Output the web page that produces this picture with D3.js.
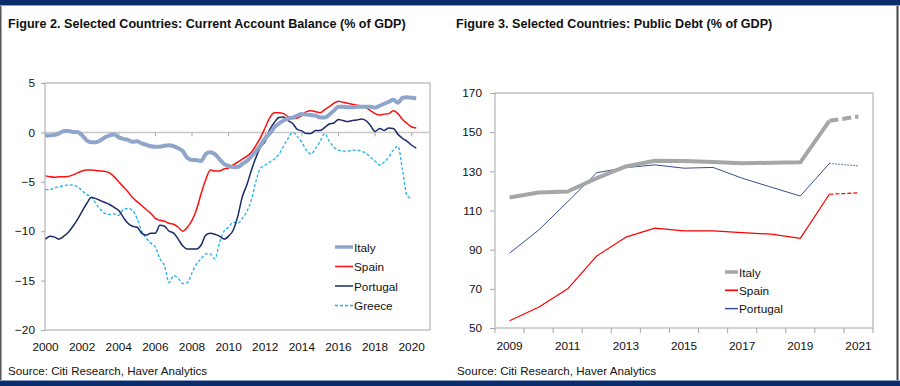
<!DOCTYPE html>
<html lang="en">
<head>
<meta charset="UTF-8">
<title>Selected Countries: Current Account and Public Debt</title>
<script src="https://d3js.org/d3.v7.min.js"></script>
<style>
  body { margin: 0; background: #fff; }
  svg { display: block; font-family: "Liberation Sans", Arial, sans-serif; }
  .title { font-size: 12.6px; font-weight: bold; fill: #111; }
  .lbl { font-size: 11.8px; fill: #111; }
  .source { font-size: 11.6px; fill: #111; }
  .legend text { font-size: 11.8px; fill: #111; }
</style>
</head>
<body>
<svg id="chart" width="900" height="386"></svg>
<script>
// ---- Figure 2: current account balance, quarterly from 2000Q1 ----
const caStart = 2000;
const caItaly = [
  -0.35, -0.3, -0.25, -0.1,  0.15, 0.15, 0.05, 0.05,  -0.3, -0.8, -1.0, -1.0,
  -0.8, -0.5, -0.3, -0.2,  -0.5, -0.65, -0.75, -0.95,  -0.9, -1.1, -1.25, -1.4,
  -1.45, -1.45, -1.35, -1.3,  -1.4, -1.6, -1.9, -2.6,  -2.8, -2.8, -2.9, -2.2,
  -2.0, -2.2, -2.7, -3.2,  -3.4, -3.5, -3.5, -3.2,  -2.9, -2.4, -1.9, -1.3,
  -0.6, -0.1, 0.5, 0.9,  1.2, 1.4, 1.5, 1.7,  1.85, 1.8, 1.75, 1.7,
  1.5, 1.5, 1.8, 2.2,  2.6, 2.6, 2.55, 2.55,  2.6, 2.6, 2.6, 2.6,
  2.5, 2.7, 2.9, 3.1,  3.3, 3.0, 3.5, 3.55,  3.5, 3.45
];
const caSpain = [
  -4.4, -4.5, -4.55, -4.5,  -4.5, -4.45, -4.3, -4.1,  -3.9, -3.8, -3.8, -3.85,
  -3.9, -3.95, -4.1, -4.5,  -5.0, -5.5, -6.0, -6.6,  -7.0, -7.4, -7.8, -8.2,
  -8.7, -8.9, -9.0, -9.2,  -9.3, -9.6, -10.0, -9.6,  -8.9, -7.8, -6.2, -4.8,
  -3.8, -3.9, -3.9, -3.7,  -3.6, -3.3, -3.0, -2.7,  -2.4, -2.0, -1.3, -0.5,
  0.5, 1.5, 2.0, 2.0,  1.9, 1.6, 1.4, 1.45,  1.7, 2.1, 2.2, 2.1,
  2.0, 2.3, 2.6, 2.95,  3.15, 3.05, 2.95, 2.85,  2.75, 2.7, 2.5, 2.2,
  1.9, 1.75, 1.85, 1.9,  2.2, 1.9, 1.3, 0.9,  0.55, 0.45
];
const caPortugal = [
  -10.8, -10.5, -10.6, -10.8,  -10.5, -10.1, -9.5, -8.8,  -8.0, -7.2, -6.6, -6.7,
  -6.9, -7.1, -7.3, -7.6,  -7.9, -8.6, -9.2, -9.5,  -9.6, -10.2, -10.4, -10.2,
  -10.2, -9.4, -9.5, -10.0,  -10.2, -10.8, -11.5, -11.8,  -11.8, -11.8, -11.4, -10.4,
  -10.2, -10.3, -10.5, -10.8,  -10.5, -9.9, -8.5, -6.5,  -5.3, -3.8, -2.5, -1.5,
  -0.9, 0.3, 1.0, 1.5,  1.55, 1.2, 0.9, 0.3,  0.15, -0.1, -0.1, 0.2,
  0.2, 0.5, 0.85, 0.95,  1.3, 1.2, 1.1, 1.2,  1.25, 1.35, 1.2, 0.7,
  0.1, 0.4, 0.2, 0.45,  0.4, -0.2, -0.6, -0.9,  -1.3, -1.6
];
const caGreece = [
  -5.8, -5.8, -5.6, -5.5,  -5.4, -5.3, -5.35, -5.5,  -5.9, -6.3, -6.5, -7.2,
  -7.8, -8.2, -8.3, -8.25,  -8.4, -7.8, -7.7, -7.9,  -8.7, -10.0, -10.7, -11.2,
  -11.6, -12.8, -13.5, -15.2,  -14.5, -14.8, -15.3, -15.2,  -14.2, -13.3, -12.8, -12.3,
  -12.3, -12.8, -11.2, -10.0,  -9.6, -9.1, -9.2, -8.7,  -8.0, -6.8, -4.9, -3.6,
  -3.3, -3.0, -2.7, -2.2,  -1.4, -0.6, 0.0, -0.4,  -1.0, -1.8, -2.2, -1.6,
  -0.9, -0.1, -0.9, -1.5,  -1.8, -1.9, -1.9, -1.8,  -1.8, -1.9, -2.1, -2.5,
  -2.9, -3.3, -3.0, -2.5,  -1.8, -1.4, -3.8, -6.4,  -6.7
];
const caYTicks = [5, 0, -5, -10, -15, -20];
const caXTicks = [2000, 2002, 2004, 2006, 2008, 2010, 2012, 2014, 2016, 2018, 2020];

// ---- Figure 3: public debt, annual (last year is a forecast) ----
const debtYears = [2009, 2010, 2011, 2012, 2013, 2014, 2015, 2016, 2017, 2018, 2019, 2020, 2021];
const debtItaly    = [116.6, 119.2, 119.7, 126.5, 132.5, 135.4, 135.3, 134.8, 134.1, 134.4, 134.6, 155.8, 158.0];
const debtSpain    = [53.7, 60.6, 70.0, 86.8, 96.4, 101.0, 99.6, 99.6, 98.7, 97.9, 95.8, 118.3, 119.0];
const debtPortugal = [88.2, 100.0, 114.5, 129.3, 131.9, 133.3, 131.6, 132.0, 126.5, 121.9, 117.4, 134.0, 132.8];
const debtYTicks = [170, 150, 130, 110, 90, 70, 50];
const debtXLabels = [2009, 2011, 2013, 2015, 2017, 2019, 2021];

const svg = d3.select('#chart');
const navy = '#0b2c6c';

// frame
svg.append('rect').attr('x', 0).attr('y', 0).attr('width', 900).attr('height', 5).attr('fill', navy);
svg.append('rect').attr('x', 0).attr('y', 5).attr('width', 900).attr('height', 1).attr('fill', '#8a9cc4');
svg.append('rect').attr('x', 0).attr('y', 381).attr('width', 900).attr('height', 5).attr('fill', navy);
svg.append('rect').attr('x', 0).attr('y', 380).attr('width', 900).attr('height', 1).attr('fill', '#8a9cc4');
svg.append('rect').attr('x', 0).attr('y', 6).attr('width', 1.5).attr('height', 374).attr('fill', '#555');
svg.append('rect').attr('x', 896.5).attr('y', 6).attr('width', 2).attr('height', 374).attr('fill', '#444');

// titles and sources
svg.append('text').attr('class', 'title').attr('x', 8).attr('y', 28)
  .text('Figure 2. Selected Countries: Current Account Balance (% of GDP)');
svg.append('text').attr('class', 'title').attr('x', 456).attr('y', 28)
  .text('Figure 3. Selected Countries: Public Debt (% of GDP)');
svg.append('text').attr('class', 'source').attr('x', 8).attr('y', 375)
  .text('Source: Citi Research, Haver Analytics');
svg.append('text').attr('class', 'source').attr('x', 457).attr('y', 375)
  .text('Source: Citi Research, Haver Analytics');

// ================= Figure 2 =================
const p2 = { left: 45, right: 430, top: 83, bottom: 330 };
const x2 = d3.scaleLinear().domain([2000, 2021]).range([p2.left + 0.5, p2.right]);
const y2 = d3.scaleLinear().domain([-20, 5]).range([p2.bottom, p2.top]);

const g2 = svg.append('g');
g2.append('rect')
  .attr('x', p2.left).attr('y', p2.top)
  .attr('width', p2.right - p2.left).attr('height', p2.bottom - p2.top)
  .attr('fill', 'none').attr('stroke', '#a6a6a6').attr('stroke-width', 1);

const yAxis2 = g2.append('g')
  .attr('transform', `translate(${p2.left},0)`)
  .call(d3.axisLeft(y2).tickValues(caYTicks).tickSize(4).tickPadding(6).tickFormat(d3.format('d')));
yAxis2.select('.domain').remove();
yAxis2.selectAll('line').attr('stroke', '#a6a6a6');
yAxis2.selectAll('text').attr('fill', '#111').style('font-size', '11.8px')
  .style('font-family', '"Liberation Sans", Arial, sans-serif');

// zero line with tick marks
g2.append('line')
  .attr('x1', p2.left).attr('x2', p2.right)
  .attr('y1', y2(0)).attr('y2', y2(0))
  .attr('stroke', '#c8c8c8').attr('stroke-width', 1.5);
g2.selectAll('.zt').data(caXTicks).enter().append('line')
  .attr('x1', d => x2(d)).attr('x2', d => x2(d))
  .attr('y1', y2(0)).attr('y2', y2(0) + 4)
  .attr('stroke', '#a6a6a6');
g2.selectAll('.xl').data(caXTicks).enter().append('text')
  .attr('class', 'lbl').attr('text-anchor', 'middle')
  .attr('x', d => x2(d)).attr('y', 351)
  .text(d => d);

const caLine = d3.line()
  .x((d, i) => x2(caStart + i / 4))
  .y(d => y2(d))
  .curve(d3.curveMonotoneX);

const caSeries = [
  { name: 'Italy', data: caItaly, color: '#8fa5cb', width: 4, dash: null },
  { name: 'Spain', data: caSpain, color: '#ff1010', width: 1.5, dash: null },
  { name: 'Portugal', data: caPortugal, color: '#1c2a68', width: 1.5, dash: null },
  { name: 'Greece', data: caGreece, color: '#1fb0ea', width: 1.3, dash: '3,2' }
];
// draw order: Greece, Portugal, Spain, Italy on top
[3, 2, 1, 0].forEach(k => {
  const s = caSeries[k];
  g2.append('path')
    .attr('d', caLine(s.data))
    .attr('fill', 'none')
    .attr('stroke', s.color)
    .attr('stroke-width', s.width)
    .attr('stroke-linejoin', 'round')
    .attr('stroke-dasharray', s.dash);
});

const leg2 = g2.append('g').attr('class', 'legend');
caSeries.forEach((s, i) => {
  const yy = 247 + i * 19.5;
  leg2.append('line')
    .attr('x1', 335).attr('x2', 353).attr('y1', yy).attr('y2', yy)
    .attr('stroke', s.color).attr('stroke-width', s.width === 4 ? 3.5 : s.width)
    .attr('stroke-dasharray', s.dash);
  leg2.append('text').attr('x', 354).attr('y', yy + 4.5).text(s.name);
});

// ================= Figure 3 =================
const p3 = { left: 495, right: 873, top: 93, bottom: 328 };
const x3 = d3.scaleBand().domain(debtYears).range([p3.left, p3.right]);
const y3 = d3.scaleLinear().domain([50, 170]).range([p3.bottom, p3.top]);
const cx = d => x3(d) + x3.bandwidth() / 2;

const g3 = svg.append('g');
g3.append('rect')
  .attr('x', p3.left).attr('y', p3.top)
  .attr('width', p3.right - p3.left).attr('height', p3.bottom - p3.top)
  .attr('fill', 'none').attr('stroke', '#a6a6a6').attr('stroke-width', 1);

const yAxis3 = g3.append('g')
  .attr('transform', `translate(${p3.left},0)`)
  .call(d3.axisLeft(y3).tickValues(debtYTicks).tickSize(5).tickPadding(8).tickFormat(d3.format('d')));
yAxis3.select('.domain').remove();
yAxis3.selectAll('line').attr('stroke', '#a6a6a6');
yAxis3.selectAll('text').attr('fill', '#111').style('font-size', '11.8px')
  .style('font-family', '"Liberation Sans", Arial, sans-serif');

// category ticks between bands
const bandEdges = debtYears.map(d => x3(d)).concat([p3.right]);
g3.selectAll('.bt').data(bandEdges).enter().append('line')
  .attr('x1', d => d).attr('x2', d => d)
  .attr('y1', p3.bottom).attr('y2', p3.bottom + 5)
  .attr('stroke', '#a6a6a6');
g3.selectAll('.xl').data(debtXLabels).enter().append('text')
  .attr('class', 'lbl').attr('text-anchor', 'middle')
  .attr('x', d => cx(d)).attr('y', 350)
  .text(d => d);

const debtLine = d3.line().x(d => cx(d.year)).y(d => y3(d.v));
const debtSeries = [
  { name: 'Italy', data: debtItaly, color: '#a6a6a6', width: 4, fdash: '9,4' },
  { name: 'Spain', data: debtSpain, color: '#ff0000', width: 1.2, fdash: '4,2' },
  { name: 'Portugal', data: debtPortugal, color: '#34508f', width: 1, fdash: '1.5,1.5' }
];
const nActual = 12; // 2009..2020 actual, 2021 forecast
[2, 1, 0].forEach(k => {
  const s = debtSeries[k];
  const pts = s.data.map((v, i) => ({ year: debtYears[i], v }));
  g3.append('path')
    .attr('d', debtLine(pts.slice(0, nActual)))
    .attr('fill', 'none').attr('stroke', s.color).attr('stroke-width', s.width)
    .attr('stroke-linejoin', 'round');
  g3.append('path')
    .attr('d', debtLine(pts.slice(nActual - 1)))
    .attr('fill', 'none').attr('stroke', s.color).attr('stroke-width', s.width)
    .attr('stroke-dasharray', s.fdash);
});

const leg3 = g3.append('g').attr('class', 'legend');
debtSeries.forEach((s, i) => {
  const yy = 272 + i * 18.3;
  leg3.append('line')
    .attr('x1', 725).attr('x2', 738).attr('y1', yy).attr('y2', yy)
    .attr('stroke', s.color).attr('stroke-width', s.width === 4 ? 3.5 : s.width + 0.5);
  leg3.append('text').attr('x', 739).attr('y', yy + 4.5).text(s.name);
});
</script>
</body>
</html>
